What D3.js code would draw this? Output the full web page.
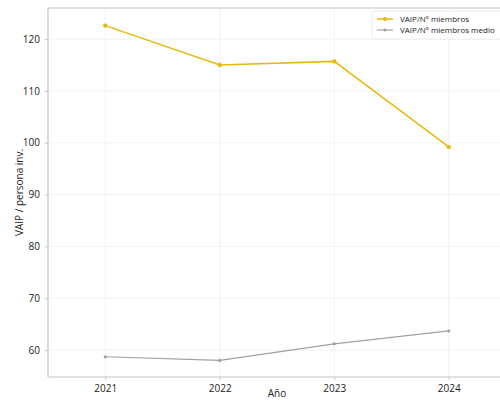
<!DOCTYPE html>
<html><head><meta charset="utf-8">
<script src="https://cdn.jsdelivr.net/npm/d3@7"></script>
<style>html,body{margin:0;background:#fff;overflow:hidden;} svg{display:block;font-family:"Open Sans",sans-serif;}</style>
</head><body><svg id="c" width="500" height="400"></svg>
<script>
const years = [2021, 2022, 2023, 2024];
const vaipMiembros = [122.6, 115.0, 115.7, 99.2];
const vaipMedio = [58.7, 58.0, 61.2, 63.7];
const yTicks = [60, 70, 80, 90, 100, 110, 120];
const seriesNames = ["VAIP/Nº miembros", "VAIP/Nº miembros medio"];
const colors = ["#e8b80c", "#a0a0a0"];

const svg = d3.select("#c");
const pL = 48, pT = 8, pR = 506, pB = 377;
const x = d3.scaleLinear().domain([2020.5, 2024.5]).range([pL, pR]);
const y = d3.scaleLinear().domain([54.8, 126.0]).range([pB, pT]);

// grid
svg.append("g").selectAll("line").data(yTicks).join("line")
  .attr("x1", pL).attr("x2", 500).attr("y1", d => y(d)).attr("y2", d => y(d))
  .attr("stroke", "#efefef").attr("stroke-width", 0.8);
svg.append("g").selectAll("line").data(years).join("line")
  .attr("y1", pT).attr("y2", pB).attr("x1", d => x(d)).attr("x2", d => x(d))
  .attr("stroke", "#efefef").attr("stroke-width", 0.8);

// frame (left, top, bottom; right edge lies outside the picture)
const frame = svg.append("g").attr("stroke", "#c4c4c4").attr("stroke-width", 1.2);
frame.append("line").attr("x1", pL).attr("x2", pL).attr("y1", pT).attr("y2", pB);
frame.append("line").attr("x1", pL).attr("x2", 500).attr("y1", pT).attr("y2", pT);
frame.append("line").attr("x1", pL).attr("x2", 500).attr("y1", pB).attr("y2", pB);

// axes
const xAxis = svg.append("g").attr("transform", `translate(0,${pB})`)
  .call(d3.axisBottom(x).tickValues(years).tickFormat(d3.format("d")).tickSize(3).tickPadding(5));
const yAxis = svg.append("g").attr("transform", `translate(${pL},0)`)
  .call(d3.axisLeft(y).tickValues(yTicks).tickSize(3).tickPadding(5));
[xAxis, yAxis].forEach(a => {
  a.select(".domain").remove();
  a.selectAll("line").attr("stroke", "#c4c4c4");
  a.selectAll("text").attr("fill", "#222").style("font-size", "10px").style("font-family", '"Open Sans",sans-serif');
});

// series
[vaipMiembros, vaipMedio].forEach((vals, i) => {
  const pts = years.map((yr, j) => [yr, vals[j]]);
  svg.append("path").datum(pts)
    .attr("d", d3.line().x(d => x(d[0])).y(d => y(d[1])))
    .attr("fill", "none").attr("stroke", colors[i]).attr("stroke-width", i === 0 ? 1.5 : 1.1);
  svg.append("g").selectAll("circle").data(pts).join("circle")
    .attr("cx", d => x(d[0])).attr("cy", d => y(d[1])).attr("r", i === 0 ? 2.2 : 1.6)
    .attr("fill", colors[i]);
});

// labels
svg.append("text").attr("x", 277).attr("y", 397).attr("text-anchor", "middle")
  .style("font-size", "10px").attr("fill", "#222").text("Año");
svg.append("text").attr("transform", `translate(23,${(pT + pB) / 2}) rotate(-90)`)
  .attr("text-anchor", "middle").style("font-size", "10px").attr("fill", "#222").text("VAIP / persona inv.");

// legend
const lg = svg.append("g");
lg.append("rect").attr("x", 372).attr("y", 11).attr("width", 140).attr("height", 28)
  .attr("fill", "#fff").attr("stroke", "#ececec").attr("rx", 2);
seriesNames.forEach((n, i) => {
  const yy = 19 + i * 11;
  lg.append("line").attr("x1", 377).attr("x2", 393).attr("y1", yy).attr("y2", yy)
    .attr("stroke", colors[i]).attr("stroke-width", i === 0 ? 1.5 : 1.1);
  lg.append("circle").attr("cx", 385).attr("cy", yy).attr("r", i === 0 ? 2 : 1.5).attr("fill", colors[i]);
  lg.append("text").attr("x", 400).attr("y", yy + 3).style("font-size", "8px").attr("fill", "#222").text(n);
});
</script></body></html>
